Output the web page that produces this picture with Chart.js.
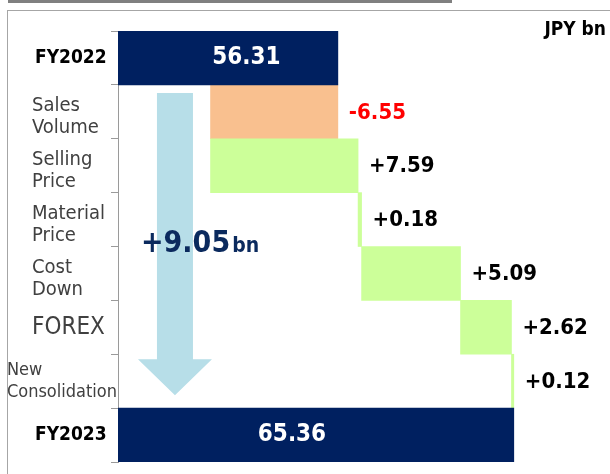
<!DOCTYPE html>
<html>
<head>
<meta charset="utf-8">
<title>Operating profit bridge FY2022 - FY2023</title>
<script src="https://cdn.jsdelivr.net/npm/chart.js@4/dist/chart.umd.min.js"></script>
<style>
    html, body { margin: 0; padding: 0; background: #fff; }
    body { width: 610px; height: 474px; position: relative; overflow: hidden; }
    #topRule { position: absolute; left: 8px; top: 0; width: 444px; height: 3px; background: #808080; }
    #frame { position: absolute; left: 7px; top: 10px; width: 640px; height: 500px; border: 1px solid #a6a6a6; box-sizing: border-box; }
    #unit { position: absolute; right: 4px; top: 17px; font: bold 19px "DejaVu Sans Condensed", "DejaVu Sans", sans-serif; color: #000; }
    #bridge { position: absolute; left: 0; top: 0; }
</style>
</head>
<body>
<div id="topRule"></div>
<div id="frame"></div>
<canvas id="bridge" width="610" height="474"></canvas>
<div id="unit">JPY bn</div>
<script>
// 営業利益の増減要因（単位：十億円）
const categories = [
    ['FY2022'],
    ['Sales', 'Volume'],
    ['Selling', 'Price'],
    ['Material', 'Price'],
    ['Cost', 'Down'],
    ['FOREX'],
    ['New', 'Consolidation'],
    ['FY2023']
];
const startTotal = 56.31;
const endTotal = 65.36;
const changes = [-6.55, 7.59, 0.18, 5.09, 2.62, 0.12];

// 色の設定
const colors = {
    total: '#002060',
    down: '#F9C08F',
    up: '#CCFF99',
    arrow: '#B7DEE8',
    label: '#404040',
    axis: '#9a9a9a'
};
const FONT = '"DejaVu Sans Condensed", "DejaVu Sans", sans-serif';

// 合計バー（始点・終点）
const totalData = categories.map((c, i) => {
    if (i === 0) return startTotal;
    if (i === categories.length - 1) return endTotal;
    return null;
});

// 増減バー（累積から浮動バーを作る）
let running = startTotal;
const stepData = [null];
changes.forEach(c => {
    stepData.push([running, running + c]);
    running += c;
});
stepData.push(null);
const stepColors = [null].concat(changes.map(c => c < 0 ? colors.down : colors.up), [null]);

/**
 * ラベル・矢印などの描画
 */
const bridgeDecor = {
    id: 'bridgeDecor',
    beforeDatasetsDraw(chart) {
        const { ctx } = chart;
        const x = chart.scales.x;
        const y = chart.scales.y;
        const band = y.getPixelForValue(1) - y.getPixelForValue(0);

        // 大きな下向き矢印
        const cx = x.getPixelForValue(47.93);
        const top = y.getPixelForValue(1) - band / 2 + 8;
        const tip = y.getPixelForValue(6) + 14;
        const headTop = tip - 36;
        ctx.save();
        ctx.fillStyle = colors.arrow;
        ctx.beginPath();
        ctx.moveTo(cx - 18, top);
        ctx.lineTo(cx + 18, top);
        ctx.lineTo(cx + 18, headTop);
        ctx.lineTo(cx + 37, headTop);
        ctx.lineTo(cx, tip);
        ctx.lineTo(cx - 37, headTop);
        ctx.lineTo(cx - 18, headTop);
        ctx.closePath();
        ctx.fill();

        // 増減合計
        const total = changes.reduce((a, b) => a + b, 0);
        const ty = (y.getPixelForValue(3) + y.getPixelForValue(4)) / 2 + 5;
        ctx.fillStyle = '#0B2A5E';
        ctx.textBaseline = 'alphabetic';
        ctx.textAlign = 'left';
        ctx.font = 'bold 30px ' + FONT;
        const main = '+' + total.toFixed(2);
        const w = ctx.measureText(main).width;
        ctx.fillText(main, cx - 34, ty);
        ctx.font = 'bold 21px ' + FONT;
        ctx.fillText('bn', cx - 34 + w + 2, ty);
        ctx.restore();
    },
    afterDatasetsDraw(chart) {
        const { ctx, chartArea } = chart;
        const x = chart.scales.x;
        const y = chart.scales.y;
        ctx.save();

        // 項目名
        categories.forEach((lines, i) => {
            const cy = y.getPixelForValue(i);
            const isTotal = i === 0 || i === categories.length - 1;
            let size = 20;
            if (isTotal) size = 19;
            if (lines[0] === 'FOREX') size = 24;
            if (lines[0] === 'New') size = 18;
            ctx.font = (isTotal ? 'bold ' : '') + size + 'px ' + FONT;
            ctx.fillStyle = isTotal ? '#000' : colors.label;
            ctx.textAlign = 'left';
            ctx.textBaseline = 'middle';
            const widest = Math.max(...lines.map(l => ctx.measureText(l).width));
            const left = Math.min(isTotal ? 35 : 32, chartArea.left - 1 - widest);
            const lh = 22;
            const shift = lines.length > 1 && lines[0] !== 'New' ? 5 : 0;
            const y0 = cy - (lines.length - 1) * lh / 2 + shift;
            lines.forEach((l, k) => ctx.fillText(l, left, y0 + k * lh));
        });

        // 合計の数値
        ctx.font = 'bold 24px ' + FONT;
        ctx.fillStyle = '#fff';
        ctx.textAlign = 'center';
        ctx.fillText(startTotal.toFixed(2), x.getPixelForValue(51.6), y.getPixelForValue(0));
        ctx.fillText(endTotal.toFixed(2), x.getPixelForValue(53.95), y.getPixelForValue(categories.length - 1));

        // 増減の数値
        ctx.font = 'bold 22px ' + FONT;
        ctx.textAlign = 'left';
        changes.forEach((c, i) => {
            const r = stepData[i + 1];
            const end = Math.max(r[0], r[1]);
            const txt = (c < 0 ? '' : '+') + c.toFixed(2);
            ctx.fillStyle = c < 0 ? '#FF0000' : '#000';
            ctx.fillText(txt, x.getPixelForValue(end) + 11, y.getPixelForValue(i + 1) + 1);
        });
        ctx.restore();
    }
};

const ctx = document.getElementById('bridge').getContext('2d');
window.bridgeChart = new Chart(ctx, {
    type: 'bar',
    data: {
        labels: categories,
        datasets: [
            {
                label: 'Total',
                data: totalData,
                backgroundColor: colors.total,
                borderWidth: 0,
                grouped: false,
                barPercentage: 1,
                categoryPercentage: 1
            },
            {
                label: 'Change',
                data: stepData,
                backgroundColor: stepColors,
                borderWidth: 0,
                grouped: false,
                barPercentage: 1,
                categoryPercentage: 1
            }
        ]
    },
    options: {
        indexAxis: 'y',
        responsive: false,
        animation: false,
        layout: { padding: { left: 111, top: 31, right: 6, bottom: 12 } },
        plugins: {
            legend: { display: false },
            tooltip: { enabled: false }
        },
        scales: {
            x: { type: 'linear', min: 45, max: 70, display: false },
            y: {
                type: 'category',
                offset: true,
                grid: {
                    offset: true,
                    drawOnChartArea: false,
                    drawTicks: true,
                    tickLength: 7,
                    color: colors.axis
                },
                border: { color: colors.axis },
                ticks: { display: false }
            }
        }
    },
    plugins: [bridgeDecor]
});
</script>
</body>
</html>
